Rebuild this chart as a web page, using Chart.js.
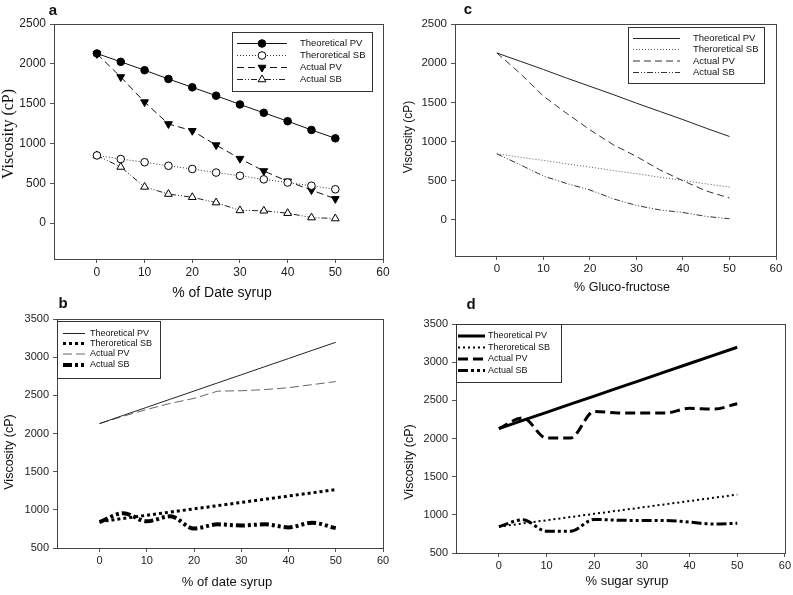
<!DOCTYPE html>
<html><head><meta charset="utf-8">
<script src="https://cdn.jsdelivr.net/npm/chart.js@4.4.1/dist/chart.umd.min.js"></script>
<style>
html,body{margin:0;padding:0;background:#fff;width:793px;height:595px;overflow:hidden;}
canvas{position:absolute;}
</style></head><body>
<canvas id="ca" width="400" height="300" style="left:0;top:0"></canvas>
<canvas id="cc" width="393" height="300" style="left:400px;top:0"></canvas>
<canvas id="cb" width="400" height="300" style="left:0;top:295px"></canvas>
<canvas id="cd" width="393" height="300" style="left:400px;top:295px"></canvas>
<script>
// ---------- data ----------
const xPercent = [0,5,10,15,20,25,30,35,40,45,50];
const xTickValues = [0,10,20,30,40,50,60];
const yTicksTop = [0,500,1000,1500,2000,2500];
const yTicksBottom = [500,1000,1500,2000,2500,3000,3500];
const seriesNames = ['Theoretical PV','Theroretical SB','Actual PV','Actual SB'];

// a: date syrup (pasting)
const dateTheoPV = [2130,2025,1920,1810,1705,1600,1490,1385,1280,1170,1065];
const dateTheoSB = [850,805,765,720,680,635,595,550,510,470,425];
const dateActPV  = [2125,1835,1520,1245,1160,980,810,655,525,415,305];
const dateActSB  = [850,705,455,365,325,258,160,155,125,70,58];
// c: gluco-fructose
const glucoTheoPV = [2130,2025,1920,1810,1705,1600,1490,1385,1280,1170,1065];
const glucoTheoSB = [845,800,760,715,675,630,590,545,505,460,420];
const glucoActPV  = [2130,1870,1580,1360,1150,960,810,640,500,370,280];
const glucoActSB  = [843,705,560,465,383,270,185,128,95,45,15];
// b: date syrup (second)
const date2TheoPV = [2130,2237,2343,2450,2556,2663,2769,2876,2982,3089,3195];
const date2TheoSB = [845,887,929,971,1013,1055,1097,1139,1181,1223,1265];
const date2ActPV  = [2130,2225,2315,2395,2460,2555,2560,2575,2600,2640,2680];
const date2ActSB  = [840,955,850,915,755,810,795,810,770,830,760];
// d: sugar syrup
const sugarTheoPV = [2130,2237,2343,2450,2556,2663,2769,2876,2982,3089,3195];
const sugarTheoSB = [845,887,929,971,1013,1055,1097,1139,1181,1223,1265];
const sugarActPV  = [2130,2270,2005,2005,2355,2335,2335,2335,2395,2385,2455];
const sugarActSB  = [845,935,785,785,940,930,925,925,905,880,890];

// ---------- helpers ----------
const SANS = '"Liberation Sans", Arial, sans-serif';
const SERIF = '"Liberation Serif", "Times New Roman", serif';
function pts(arr){ return xPercent.map((x,i)=>({x:x, y:arr[i]})); }

const deco = {
  id:'deco',
  afterDraw(chart, args, o){
    const ctx = chart.ctx, ca = chart.chartArea;
    ctx.save();
    ctx.setLineDash([]);
    ctx.strokeStyle = '#444'; ctx.lineWidth = 1;
    ctx.strokeRect(Math.round(ca.left)+0.5, Math.round(ca.top)+0.5, Math.round(ca.right-ca.left), Math.round(ca.bottom-ca.top));
    // panel letter
    ctx.fillStyle = '#111';
    ctx.font = 'bold 15px ' + SANS;
    ctx.textAlign = 'center'; ctx.textBaseline = 'middle';
    ctx.fillText(o.letter, o.letterPos[0], o.letterPos[1]);
    // x title
    ctx.font = o.xTitleFont;
    ctx.fillText(o.xTitle, o.xTitlePos[0], o.xTitlePos[1]);
    // y title
    ctx.save();
    ctx.translate(o.yTitlePos[0], o.yTitlePos[1]);
    ctx.rotate(-Math.PI/2);
    ctx.font = o.yTitleFont;
    ctx.fillText(o.yTitle, 0, 0);
    ctx.restore();
    // legend
    const L = o.legend;
    ctx.strokeStyle = '#333'; ctx.lineWidth = 1;
    ctx.strokeRect(L.box[0]+0.5, L.box[1]+0.5, L.box[2]-L.box[0], L.box[3]-L.box[1]);
    chart.data.datasets.forEach((ds,i)=>{
      const y = L.rows[i];
      ctx.save();
      ctx.strokeStyle = ds.borderColor;
      ctx.lineWidth = ds.borderWidth;
      ctx.setLineDash(ds.borderDash || []);
      ctx.beginPath(); ctx.moveTo(L.sample[0], y); ctx.lineTo(L.sample[1], y); ctx.stroke();
      if (ds.pointRadius > 0) {
        ctx.setLineDash([]);
        ctx.fillStyle = ds.pointBackgroundColor;
        ctx.strokeStyle = ds.pointBorderColor;
        ctx.lineWidth = 1;
        Chart.helpers.drawPoint(ctx, {pointStyle: ds.pointStyle, rotation: ds.pointRotation||0, radius: ds.pointRadius, borderWidth: 1}, (L.sample[0]+L.sample[1])/2, y);
      }
      ctx.restore();
      ctx.fillStyle = '#111';
      ctx.font = L.font;
      ctx.textAlign = 'left'; ctx.textBaseline = 'middle';
      ctx.fillText(ds.label, L.textX, y);
    });
    ctx.restore();
  }
};

function ds(label, arr, style){
  return Object.assign({
    label: label, data: pts(arr), borderColor:'#111', borderWidth:1, borderDash:[],
    pointRadius:0, pointStyle:'circle', pointBackgroundColor:'#000', pointBorderColor:'#000',
    pointBorderWidth:1, fill:false, tension:0, spanGaps:true
  }, style);
}

function makeChart(id, datasets, geo, yTicks, yMin, yMax, tickSize, decoOpts){
  const tickFont = {size: tickSize, family: SANS};
  return new Chart(document.getElementById(id), {
    type:'line',
    data:{datasets: datasets},
    options:{
      responsive:false, animation:false, events:[],
      layout:{padding:{left:0, top:geo.top, right:geo.right, bottom:0}},
      plugins:{legend:{display:false}, tooltip:{enabled:false}, deco: decoOpts},
      scales:{
        x:{type:'linear', min:-9, max:60,
          afterBuildTicks: s => { s.ticks = xTickValues.map(v=>({value:v})); },
          afterFit: s => { s.height = geo.xh; },
          grid:{display:true, drawOnChartArea:false, drawTicks:true, tickLength:4, tickColor:'#555'},
          border:{display:true, color:'#444'},
          ticks:{font:tickFont, color:'#222', padding:2, maxRotation:0, autoSkip:false, callback: v => String(v)}
        },
        y:{type:'linear', min:yMin, max:yMax,
          afterBuildTicks: s => { s.ticks = yTicks.map(v=>({value:v})); },
          afterFit: s => { s.width = geo.yw; },
          grid:{display:true, drawOnChartArea:false, drawTicks:true, tickLength:4, tickColor:'#555'},
          border:{display:true, color:'#444'},
          ticks:{font:tickFont, color:'#222', padding:4, autoSkip:false, callback: v => String(v)}
        }
      }
    },
    plugins:[deco]
  });
}

// ---------- a ----------
makeChart('ca', [
  ds(seriesNames[0], dateTheoPV, {borderColor:'#111', pointRadius:3.8, pointStyle:'circle', pointBackgroundColor:'#000'}),
  ds(seriesNames[1], dateTheoSB, {borderColor:'#333', borderDash:[1,2], pointRadius:3.8, pointStyle:'circle', pointBackgroundColor:'#fff'}),
  ds(seriesNames[2], dateActPV, {borderColor:'#111', borderDash:[7,4], pointRadius:4.5, pointStyle:'triangle', pointRotation:180, pointBackgroundColor:'#000'}),
  ds(seriesNames[3], dateActSB, {borderColor:'#222', borderDash:[6,2,1,2,1,2], pointRadius:4.5, pointStyle:'triangle', pointBackgroundColor:'#fff'})
], {top:24, right:17, yw:54, xh:41}, yTicksTop, -450, 2500, 12, {
  letter:'a', letterPos:[53,11],
  xTitle:'% of Date syrup', xTitlePos:[222,293], xTitleFont:'14px '+SANS,
  yTitle:'Viscosity (cP)', yTitlePos:[9,134], yTitleFont:'16px '+SERIF,
  legend:{box:[232,32,372,91], sample:[237,287], textX:300, rows:[43.5,55.5,67.5,79.5], font:'9.5px '+SANS}
});

// ---------- c ----------
makeChart('cc', [
  ds(seriesNames[0], glucoTheoPV, {borderColor:'#222'}),
  ds(seriesNames[1], glucoTheoSB, {borderColor:'#555', borderDash:[1,2]}),
  ds(seriesNames[2], glucoActPV, {borderColor:'#333', borderDash:[7,4]}),
  ds(seriesNames[3], glucoActSB, {borderColor:'#333', borderDash:[6,2,1,2,1,2]})
], {top:24, right:17, yw:55, xh:44}, yTicksTop, -460, 2500, 11.5, {
  letter:'c', letterPos:[68,10],
  xTitle:'% Gluco-fructose', xTitlePos:[222,288], xTitleFont:'12.5px '+SANS,
  yTitle:'Viscosity (cP)', yTitlePos:[9,137], yTitleFont:'12px '+SANS,
  legend:{box:[228,27,364,83], sample:[233,280], textX:293, rows:[38.5,49.5,61,72.5], font:'9.5px '+SANS}
});

// ---------- b ----------
makeChart('cb', [
  ds(seriesNames[0], date2TheoPV, {borderColor:'#222'}),
  ds(seriesNames[1], date2TheoSB, {borderColor:'#000', borderWidth:3, borderDash:[3,3]}),
  ds(seriesNames[2], date2ActPV, {borderColor:'#666', borderDash:[9,4]}),
  ds(seriesNames[3], date2ActSB, {borderColor:'#000', borderWidth:4, borderDash:[9,3,3,3,3,3], cubicInterpolationMode:'monotone'})
], {top:24, right:17, yw:57, xh:47}, yTicksBottom, 500, 3500, 11, {
  letter:'b', letterPos:[63,9],
  xTitle:'% of date syrup', xTitlePos:[227,287], xTitleFont:'13px '+SANS,
  yTitle:'Viscosity (cP)', yTitlePos:[10,157], yTitleFont:'12.5px '+SANS,
  legend:{box:[57,26,160,83], sample:[63,85], textX:90, rows:[38.5,48.5,59,70], font:'9px '+SANS}
});

// ---------- d ----------
makeChart('cd', [
  ds(seriesNames[0], sugarTheoPV, {borderColor:'#000', borderWidth:3}),
  ds(seriesNames[1], sugarTheoSB, {borderColor:'#000', borderWidth:2, borderDash:[2,3]}),
  ds(seriesNames[2], sugarActPV, {borderColor:'#000', borderWidth:3, borderDash:[10,5], cubicInterpolationMode:'monotone'}),
  ds(seriesNames[3], sugarActSB, {borderColor:'#000', borderWidth:3, borderDash:[10,3,3,3,3,3], cubicInterpolationMode:'monotone'})
], {top:29, right:8, yw:56, xh:42}, yTicksBottom, 500, 3500, 11, {
  letter:'d', letterPos:[71,10],
  xTitle:'% sugar syrup', xTitlePos:[227,286], xTitleFont:'13px '+SANS,
  yTitle:'Viscosity (cP)', yTitlePos:[10,167], yTitleFont:'12.5px '+SANS,
  legend:{box:[56,29,161,87], sample:[58,85], textX:88, rows:[41,52.5,64,75.5], font:'9px '+SANS}
});
</script>
</body></html>
